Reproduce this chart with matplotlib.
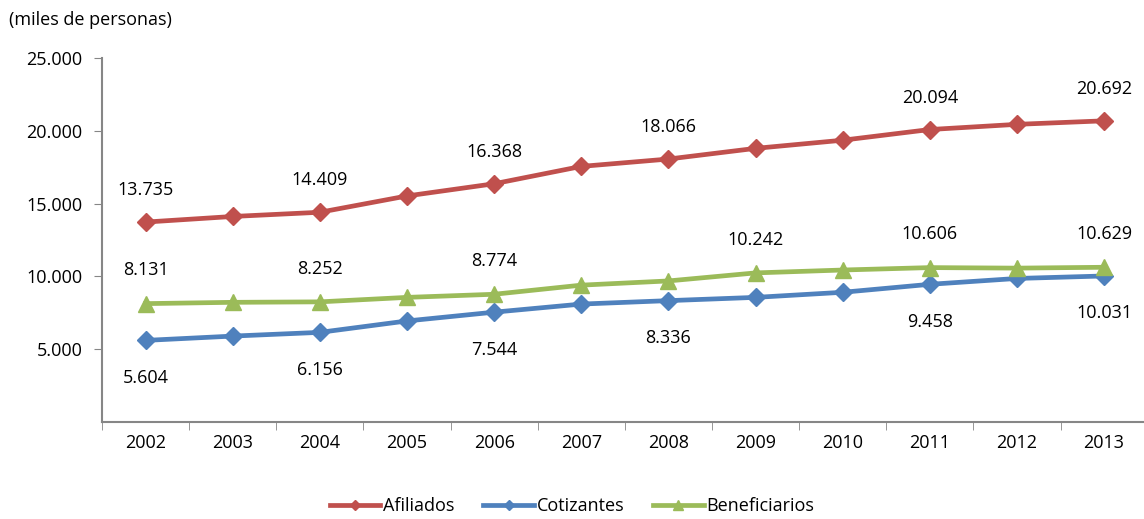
import matplotlib.pyplot as plt

plt.rcParams['font.family'] = ['Open Sans', 'DejaVu Sans']

years = ['2002', '2003', '2004', '2005', '2006', '2007',
         '2008', '2009', '2010', '2011', '2012', '2013']
afiliados = [13735, 14120, 14409, 15530, 16368, 17560,
             18066, 18800, 19360, 20094, 20450, 20692]
cotizantes = [5604, 5900, 6156, 6940, 7544, 8100,
              8336, 8560, 8910, 9458, 9860, 10031]
beneficiarios = [8131, 8220, 8252, 8560, 8774, 9400,
                 9690, 10242, 10440, 10606, 10570, 10629]

# years that carry a value label
afil_lab = [0, 2, 4, 6, 9, 11]
coti_lab = [0, 2, 4, 6, 9, 11]
bene_lab = [0, 2, 4, 7, 9, 11]

FS = 13


def fmt(v):
    return f"{v:,}".replace(",", ".")


fig = plt.figure(figsize=(11.44, 5.19), dpi=100)
ax = fig.add_axes([0.0892, 0.187, 0.914, 0.701])

x = list(range(len(years)))
ax.plot(x, afiliados, color='#C0504D', lw=3.4, marker='D', ms=9, label='Afiliados')
ax.plot(x, cotizantes, color='#4F81BD', lw=3.4, marker='D', ms=9, label='Cotizantes')
ax.plot(x, beneficiarios, color='#9BBB59', lw=3.4, marker='^', ms=11, label='Beneficiarios')

for i in afil_lab:
    ax.annotate(fmt(afiliados[i]), (i, afiliados[i]), xytext=(0, 23),
                textcoords='offset points', ha='center', va='center', fontsize=FS)
for i in bene_lab:
    ax.annotate(fmt(beneficiarios[i]), (i, beneficiarios[i]), xytext=(0, 24),
                textcoords='offset points', ha='center', va='center', fontsize=FS)
for i in coti_lab:
    ax.annotate(fmt(cotizantes[i]), (i, cotizantes[i]), xytext=(0, -27),
                textcoords='offset points', ha='center', va='center', fontsize=FS)

ax.set_xlim(-0.5, len(years) - 0.5)
ax.set_ylim(0, 25000)
ax.set_yticks([5000, 10000, 15000, 20000, 25000])
ax.set_yticklabels([fmt(v) for v in [5000, 10000, 15000, 20000, 25000]], fontsize=FS)
ax.set_xticks(x)
ax.set_xticklabels(years, fontsize=FS)
ax.set_xticks([i - 0.5 for i in range(len(years) + 1)], minor=True)
ax.tick_params(axis='x', which='major', length=0, pad=9)
ax.tick_params(axis='x', which='minor', length=6, color='#868686')
ax.tick_params(axis='y', length=6, color='#868686', pad=8)

for s in ['top', 'right']:
    ax.spines[s].set_visible(False)
for s in ['left', 'bottom']:
    ax.spines[s].set_color('#868686')
    ax.spines[s].set_linewidth(1.5)

fig.text(0.008, 0.962, '(miles de personas)', fontsize=FS, va='center')

fig.legend(loc='center', bbox_to_anchor=(0.5, 0.025), ncol=3, frameon=False,
           fontsize=FS, handlelength=2.8, columnspacing=1.6, handletextpad=0.15,
           markerscale=0.6)

fig.savefig('out.png', dpi=100)
